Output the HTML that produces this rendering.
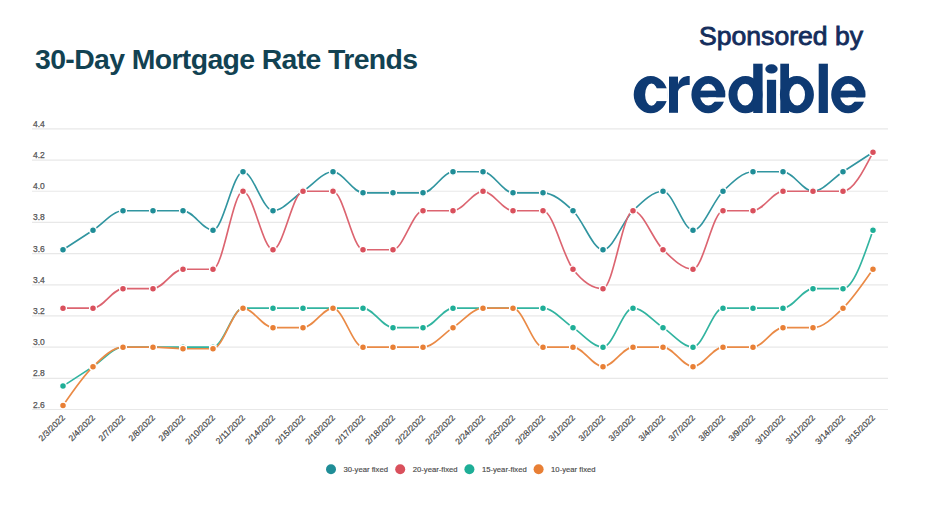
<!DOCTYPE html>
<html><head><meta charset="utf-8">
<style>
html,body{margin:0;padding:0;background:#fff;}
body{width:932px;height:524px;position:relative;overflow:hidden;font-family:"Liberation Sans",sans-serif;}
.title{position:absolute;left:35px;top:44px;font-size:28.4px;letter-spacing:-0.62px;font-weight:bold;color:#124252;white-space:nowrap;line-height:30px;}
.spons{position:absolute;left:699px;top:20.5px;font-size:26.6px;font-weight:normal;-webkit-text-stroke:0.85px #142d5c;color:#142d5c;white-space:nowrap;line-height:30px;}
.chart{position:absolute;left:0;top:0;}
.yl{font-size:8.5px;fill:#555;stroke:#555;stroke-width:0.25px;font-family:"Liberation Sans",sans-serif;}
.xl{font-size:8.5px;fill:#444;stroke:#444;stroke-width:0.2px;font-family:"Liberation Sans",sans-serif;}
.lg{font-size:7.7px;fill:#4a4a4a;stroke:#4a4a4a;stroke-width:0.15px;font-family:"Liberation Sans",sans-serif;}
.logo{position:absolute;left:0;top:0;}
</style></head><body>
<div class="title">30-Day Mortgage Rate Trends</div>
<div class="spons">Sponsored by</div>
<svg class="logo" width="932" height="130" viewBox="0 0 932 130"><g fill="#0e3a73"><path fill-rule="evenodd" d="M633.70,94.65A17.00,18.65 0 1,0 667.70,94.65A17.00,18.65 0 1,0 633.70,94.65ZM645.10,94.65A6.40,11.05 0 1,0 657.90,94.65A6.40,11.05 0 1,0 645.10,94.65Z"/><rect x="651.70" y="88.3" width="16.2" height="12.8" fill="#fff"/><path d="M669.00,76.60H678.00V112.80H669.00Z"/><path d="M678,84.5C679.5,78.5 683.5,76 689.7,76V85.1C684,85.1 679.5,87 678,91.5Z"/><path fill-rule="evenodd" d="M691.40,94.65A16.90,18.65 0 1,0 725.20,94.65A16.90,18.65 0 1,0 691.40,94.65ZM700.00,94.65A8.30,10.85 0 1,0 716.60,94.65A8.30,10.85 0 1,0 700.00,94.65Z"/><path d="M699.30,90.60H725.20V97.40H699.30Z"/><rect x="708.30" y="97.4" width="19.50" height="4.3" fill="#fff"/><path fill-rule="evenodd" d="M728.50,94.65A17.00,18.65 0 1,0 762.50,94.65A17.00,18.65 0 1,0 728.50,94.65ZM737.40,94.65A7.80,10.85 0 1,0 753.00,94.65A7.80,10.85 0 1,0 737.40,94.65Z"/><path d="M753.20,63.70H762.60V113.00H753.20Z"/><ellipse cx="771.5" cy="68.9" rx="6.2" ry="4.6"/><path d="M766.90,79.80H776.10V113.00H766.90Z"/><path fill-rule="evenodd" d="M779.90,94.65A17.00,18.65 0 1,0 813.90,94.65A17.00,18.65 0 1,0 779.90,94.65ZM789.40,94.65A7.80,10.85 0 1,0 805.00,94.65A7.80,10.85 0 1,0 789.40,94.65Z"/><path d="M780.30,63.70H789.00V113.00H780.30Z"/><path d="M818.70,63.70H827.90V113.00H818.70Z"/><path fill-rule="evenodd" d="M831.20,94.65A17.05,18.65 0 1,0 865.30,94.65A17.05,18.65 0 1,0 831.20,94.65ZM839.95,94.65A8.30,10.85 0 1,0 856.55,94.65A8.30,10.85 0 1,0 839.95,94.65Z"/><path d="M839.25,90.60H865.30V97.50H839.25Z"/><rect x="848.25" y="97.5" width="20" height="4.2" fill="#fff"/></g></svg>
<svg class="chart" width="932" height="524" viewBox="0 0 932 524">
<line x1="32.0" x2="888.0" y1="128.90" y2="128.90" stroke="#e8e8e8" stroke-width="1.2"/>
<text x="33.0" y="126.90" class="yl">4.4</text>
<line x1="32.0" x2="888.0" y1="160.08" y2="160.08" stroke="#e8e8e8" stroke-width="1.2"/>
<text x="33.0" y="158.08" class="yl">4.2</text>
<line x1="32.0" x2="888.0" y1="191.26" y2="191.26" stroke="#e8e8e8" stroke-width="1.2"/>
<text x="33.0" y="189.26" class="yl">4.0</text>
<line x1="32.0" x2="888.0" y1="222.43" y2="222.43" stroke="#e8e8e8" stroke-width="1.2"/>
<text x="33.0" y="220.43" class="yl">3.8</text>
<line x1="32.0" x2="888.0" y1="253.61" y2="253.61" stroke="#e8e8e8" stroke-width="1.2"/>
<text x="33.0" y="251.61" class="yl">3.6</text>
<line x1="32.0" x2="888.0" y1="284.79" y2="284.79" stroke="#e8e8e8" stroke-width="1.2"/>
<text x="33.0" y="282.79" class="yl">3.4</text>
<line x1="32.0" x2="888.0" y1="315.97" y2="315.97" stroke="#e8e8e8" stroke-width="1.2"/>
<text x="33.0" y="313.97" class="yl">3.2</text>
<line x1="32.0" x2="888.0" y1="347.14" y2="347.14" stroke="#e8e8e8" stroke-width="1.2"/>
<text x="33.0" y="345.14" class="yl">3.0</text>
<line x1="32.0" x2="888.0" y1="378.32" y2="378.32" stroke="#e8e8e8" stroke-width="1.2"/>
<text x="33.0" y="376.32" class="yl">2.8</text>
<line x1="32.0" x2="888.0" y1="409.50" y2="409.50" stroke="#e8e8e8" stroke-width="1.2"/>
<text x="33.0" y="407.50" class="yl">2.6</text>
<text class="xl" transform="translate(65.50,418.30) rotate(-45)" text-anchor="end">2/3/2022</text>
<text class="xl" transform="translate(95.50,418.30) rotate(-45)" text-anchor="end">2/4/2022</text>
<text class="xl" transform="translate(125.50,418.30) rotate(-45)" text-anchor="end">2/7/2022</text>
<text class="xl" transform="translate(155.50,418.30) rotate(-45)" text-anchor="end">2/8/2022</text>
<text class="xl" transform="translate(185.50,418.30) rotate(-45)" text-anchor="end">2/9/2022</text>
<text class="xl" transform="translate(215.50,418.30) rotate(-45)" text-anchor="end">2/10/2022</text>
<text class="xl" transform="translate(245.50,418.30) rotate(-45)" text-anchor="end">2/11/2022</text>
<text class="xl" transform="translate(275.50,418.30) rotate(-45)" text-anchor="end">2/14/2022</text>
<text class="xl" transform="translate(305.50,418.30) rotate(-45)" text-anchor="end">2/15/2022</text>
<text class="xl" transform="translate(335.50,418.30) rotate(-45)" text-anchor="end">2/16/2022</text>
<text class="xl" transform="translate(365.50,418.30) rotate(-45)" text-anchor="end">2/17/2022</text>
<text class="xl" transform="translate(395.50,418.30) rotate(-45)" text-anchor="end">2/18/2022</text>
<text class="xl" transform="translate(425.50,418.30) rotate(-45)" text-anchor="end">2/22/2022</text>
<text class="xl" transform="translate(455.50,418.30) rotate(-45)" text-anchor="end">2/23/2022</text>
<text class="xl" transform="translate(485.50,418.30) rotate(-45)" text-anchor="end">2/24/2022</text>
<text class="xl" transform="translate(515.50,418.30) rotate(-45)" text-anchor="end">2/25/2022</text>
<text class="xl" transform="translate(545.50,418.30) rotate(-45)" text-anchor="end">2/28/2022</text>
<text class="xl" transform="translate(575.50,418.30) rotate(-45)" text-anchor="end">3/1/2022</text>
<text class="xl" transform="translate(605.50,418.30) rotate(-45)" text-anchor="end">3/2/2022</text>
<text class="xl" transform="translate(635.50,418.30) rotate(-45)" text-anchor="end">3/3/2022</text>
<text class="xl" transform="translate(665.50,418.30) rotate(-45)" text-anchor="end">3/4/2022</text>
<text class="xl" transform="translate(695.50,418.30) rotate(-45)" text-anchor="end">3/7/2022</text>
<text class="xl" transform="translate(725.50,418.30) rotate(-45)" text-anchor="end">3/8/2022</text>
<text class="xl" transform="translate(755.50,418.30) rotate(-45)" text-anchor="end">3/9/2022</text>
<text class="xl" transform="translate(785.50,418.30) rotate(-45)" text-anchor="end">3/10/2022</text>
<text class="xl" transform="translate(815.50,418.30) rotate(-45)" text-anchor="end">3/11/2022</text>
<text class="xl" transform="translate(845.50,418.30) rotate(-45)" text-anchor="end">3/14/2022</text>
<text class="xl" transform="translate(875.50,418.30) rotate(-45)" text-anchor="end">3/15/2022</text>
<path d="M63.00,249.71C73.00,243.22,83.00,236.72,93.00,230.23C103.00,223.73,113.00,210.74,123.00,210.74C133.00,210.74,143.00,210.74,153.00,210.74C163.00,210.74,173.00,210.74,183.00,210.74C193.00,210.74,203.00,230.23,213.00,230.23C223.00,230.23,233.00,171.77,243.00,171.77C253.00,171.77,263.00,210.74,273.00,210.74C283.00,210.74,293.00,197.75,303.00,191.26C313.00,184.76,323.00,171.77,333.00,171.77C343.00,171.77,353.00,192.81,363.00,192.81C373.00,192.81,383.00,192.81,393.00,192.81C403.00,192.81,413.00,192.81,423.00,192.81C433.00,192.81,443.00,171.77,453.00,171.77C463.00,171.77,473.00,171.77,483.00,171.77C493.00,171.77,503.00,192.81,513.00,192.81C523.00,192.81,533.00,192.81,543.00,192.81C553.00,192.81,563.00,201.26,573.00,210.74C583.00,220.22,593.00,249.71,603.00,249.71C613.00,249.71,623.00,220.48,633.00,210.74C643.00,201.00,653.00,191.26,663.00,191.26C673.00,191.26,683.00,230.23,693.00,230.23C703.00,230.23,713.00,201.00,723.00,191.26C733.00,181.51,743.00,171.77,753.00,171.77C763.00,171.77,773.00,171.77,783.00,171.77C793.00,171.77,803.00,191.26,813.00,191.26C823.00,191.26,833.00,178.26,843.00,171.77C853.00,165.27,863.00,158.78,873.00,152.28" fill="none" stroke="#3195a0" stroke-width="1.65"/>
<circle cx="63.00" cy="249.71" r="3.4" fill="#1f8d97" stroke="#fff" stroke-width="1.3"/>
<circle cx="93.00" cy="230.23" r="3.4" fill="#1f8d97" stroke="#fff" stroke-width="1.3"/>
<circle cx="123.00" cy="210.74" r="3.4" fill="#1f8d97" stroke="#fff" stroke-width="1.3"/>
<circle cx="153.00" cy="210.74" r="3.4" fill="#1f8d97" stroke="#fff" stroke-width="1.3"/>
<circle cx="183.00" cy="210.74" r="3.4" fill="#1f8d97" stroke="#fff" stroke-width="1.3"/>
<circle cx="213.00" cy="230.23" r="3.4" fill="#1f8d97" stroke="#fff" stroke-width="1.3"/>
<circle cx="243.00" cy="171.77" r="3.4" fill="#1f8d97" stroke="#fff" stroke-width="1.3"/>
<circle cx="273.00" cy="210.74" r="3.4" fill="#1f8d97" stroke="#fff" stroke-width="1.3"/>
<circle cx="303.00" cy="191.26" r="3.4" fill="#1f8d97" stroke="#fff" stroke-width="1.3"/>
<circle cx="333.00" cy="171.77" r="3.4" fill="#1f8d97" stroke="#fff" stroke-width="1.3"/>
<circle cx="363.00" cy="192.81" r="3.4" fill="#1f8d97" stroke="#fff" stroke-width="1.3"/>
<circle cx="393.00" cy="192.81" r="3.4" fill="#1f8d97" stroke="#fff" stroke-width="1.3"/>
<circle cx="423.00" cy="192.81" r="3.4" fill="#1f8d97" stroke="#fff" stroke-width="1.3"/>
<circle cx="453.00" cy="171.77" r="3.4" fill="#1f8d97" stroke="#fff" stroke-width="1.3"/>
<circle cx="483.00" cy="171.77" r="3.4" fill="#1f8d97" stroke="#fff" stroke-width="1.3"/>
<circle cx="513.00" cy="192.81" r="3.4" fill="#1f8d97" stroke="#fff" stroke-width="1.3"/>
<circle cx="543.00" cy="192.81" r="3.4" fill="#1f8d97" stroke="#fff" stroke-width="1.3"/>
<circle cx="573.00" cy="210.74" r="3.4" fill="#1f8d97" stroke="#fff" stroke-width="1.3"/>
<circle cx="603.00" cy="249.71" r="3.4" fill="#1f8d97" stroke="#fff" stroke-width="1.3"/>
<circle cx="633.00" cy="210.74" r="3.4" fill="#1f8d97" stroke="#fff" stroke-width="1.3"/>
<circle cx="663.00" cy="191.26" r="3.4" fill="#1f8d97" stroke="#fff" stroke-width="1.3"/>
<circle cx="693.00" cy="230.23" r="3.4" fill="#1f8d97" stroke="#fff" stroke-width="1.3"/>
<circle cx="723.00" cy="191.26" r="3.4" fill="#1f8d97" stroke="#fff" stroke-width="1.3"/>
<circle cx="753.00" cy="171.77" r="3.4" fill="#1f8d97" stroke="#fff" stroke-width="1.3"/>
<circle cx="783.00" cy="171.77" r="3.4" fill="#1f8d97" stroke="#fff" stroke-width="1.3"/>
<circle cx="813.00" cy="191.26" r="3.4" fill="#1f8d97" stroke="#fff" stroke-width="1.3"/>
<circle cx="843.00" cy="171.77" r="3.4" fill="#1f8d97" stroke="#fff" stroke-width="1.3"/>
<circle cx="873.00" cy="152.28" r="3.4" fill="#1f8d97" stroke="#fff" stroke-width="1.3"/>
<path d="M63.00,308.17C73.00,308.17,83.00,308.17,93.00,308.17C103.00,308.17,113.00,288.69,123.00,288.69C133.00,288.69,143.00,288.69,153.00,288.69C163.00,288.69,173.00,269.20,183.00,269.20C193.00,269.20,203.00,269.20,213.00,269.20C223.00,269.20,233.00,191.26,243.00,191.26C253.00,191.26,263.00,249.71,273.00,249.71C283.00,249.71,293.00,191.26,303.00,191.26C313.00,191.26,323.00,191.26,333.00,191.26C343.00,191.26,353.00,249.71,363.00,249.71C373.00,249.71,383.00,249.71,393.00,249.71C403.00,249.71,413.00,210.74,423.00,210.74C433.00,210.74,443.00,210.74,453.00,210.74C463.00,210.74,473.00,191.26,483.00,191.26C493.00,191.26,503.00,210.74,513.00,210.74C523.00,210.74,533.00,210.74,543.00,210.74C553.00,210.74,563.00,256.21,573.00,269.20C583.00,282.19,593.00,288.69,603.00,288.69C613.00,288.69,623.00,210.74,633.00,210.74C643.00,210.74,653.00,239.97,663.00,249.71C673.00,259.46,683.00,269.20,693.00,269.20C703.00,269.20,713.00,210.74,723.00,210.74C733.00,210.74,743.00,210.74,753.00,210.74C763.00,210.74,773.00,191.26,783.00,191.26C793.00,191.26,803.00,191.26,813.00,191.26C823.00,191.26,833.00,191.26,843.00,191.26C853.00,191.26,863.00,171.77,873.00,152.28" fill="none" stroke="#dc6470" stroke-width="1.65"/>
<circle cx="63.00" cy="308.17" r="3.4" fill="#d9505c" stroke="#fff" stroke-width="1.3"/>
<circle cx="93.00" cy="308.17" r="3.4" fill="#d9505c" stroke="#fff" stroke-width="1.3"/>
<circle cx="123.00" cy="288.69" r="3.4" fill="#d9505c" stroke="#fff" stroke-width="1.3"/>
<circle cx="153.00" cy="288.69" r="3.4" fill="#d9505c" stroke="#fff" stroke-width="1.3"/>
<circle cx="183.00" cy="269.20" r="3.4" fill="#d9505c" stroke="#fff" stroke-width="1.3"/>
<circle cx="213.00" cy="269.20" r="3.4" fill="#d9505c" stroke="#fff" stroke-width="1.3"/>
<circle cx="243.00" cy="191.26" r="3.4" fill="#d9505c" stroke="#fff" stroke-width="1.3"/>
<circle cx="273.00" cy="249.71" r="3.4" fill="#d9505c" stroke="#fff" stroke-width="1.3"/>
<circle cx="303.00" cy="191.26" r="3.4" fill="#d9505c" stroke="#fff" stroke-width="1.3"/>
<circle cx="333.00" cy="191.26" r="3.4" fill="#d9505c" stroke="#fff" stroke-width="1.3"/>
<circle cx="363.00" cy="249.71" r="3.4" fill="#d9505c" stroke="#fff" stroke-width="1.3"/>
<circle cx="393.00" cy="249.71" r="3.4" fill="#d9505c" stroke="#fff" stroke-width="1.3"/>
<circle cx="423.00" cy="210.74" r="3.4" fill="#d9505c" stroke="#fff" stroke-width="1.3"/>
<circle cx="453.00" cy="210.74" r="3.4" fill="#d9505c" stroke="#fff" stroke-width="1.3"/>
<circle cx="483.00" cy="191.26" r="3.4" fill="#d9505c" stroke="#fff" stroke-width="1.3"/>
<circle cx="513.00" cy="210.74" r="3.4" fill="#d9505c" stroke="#fff" stroke-width="1.3"/>
<circle cx="543.00" cy="210.74" r="3.4" fill="#d9505c" stroke="#fff" stroke-width="1.3"/>
<circle cx="573.00" cy="269.20" r="3.4" fill="#d9505c" stroke="#fff" stroke-width="1.3"/>
<circle cx="603.00" cy="288.69" r="3.4" fill="#d9505c" stroke="#fff" stroke-width="1.3"/>
<circle cx="633.00" cy="210.74" r="3.4" fill="#d9505c" stroke="#fff" stroke-width="1.3"/>
<circle cx="663.00" cy="249.71" r="3.4" fill="#d9505c" stroke="#fff" stroke-width="1.3"/>
<circle cx="693.00" cy="269.20" r="3.4" fill="#d9505c" stroke="#fff" stroke-width="1.3"/>
<circle cx="723.00" cy="210.74" r="3.4" fill="#d9505c" stroke="#fff" stroke-width="1.3"/>
<circle cx="753.00" cy="210.74" r="3.4" fill="#d9505c" stroke="#fff" stroke-width="1.3"/>
<circle cx="783.00" cy="191.26" r="3.4" fill="#d9505c" stroke="#fff" stroke-width="1.3"/>
<circle cx="813.00" cy="191.26" r="3.4" fill="#d9505c" stroke="#fff" stroke-width="1.3"/>
<circle cx="843.00" cy="191.26" r="3.4" fill="#d9505c" stroke="#fff" stroke-width="1.3"/>
<circle cx="873.00" cy="152.28" r="3.4" fill="#d9505c" stroke="#fff" stroke-width="1.3"/>
<path d="M63.00,386.12C73.00,379.62,83.00,373.13,93.00,366.63C103.00,360.14,113.00,347.14,123.00,347.14C133.00,347.14,143.00,347.14,153.00,347.14C163.00,347.14,173.00,347.14,183.00,347.14C193.00,347.14,203.00,347.14,213.00,347.14C223.00,347.14,233.00,308.17,243.00,308.17C253.00,308.17,263.00,308.17,273.00,308.17C283.00,308.17,293.00,308.17,303.00,308.17C313.00,308.17,323.00,308.17,333.00,308.17C343.00,308.17,353.00,308.17,363.00,308.17C373.00,308.17,383.00,327.66,393.00,327.66C403.00,327.66,413.00,327.66,423.00,327.66C433.00,327.66,443.00,308.17,453.00,308.17C463.00,308.17,473.00,308.17,483.00,308.17C493.00,308.17,503.00,308.17,513.00,308.17C523.00,308.17,533.00,308.17,543.00,308.17C553.00,308.17,563.00,321.16,573.00,327.66C583.00,334.15,593.00,347.14,603.00,347.14C613.00,347.14,623.00,308.17,633.00,308.17C643.00,308.17,653.00,321.16,663.00,327.66C673.00,334.15,683.00,347.14,693.00,347.14C703.00,347.14,713.00,308.17,723.00,308.17C733.00,308.17,743.00,308.17,753.00,308.17C763.00,308.17,773.00,308.17,783.00,308.17C793.00,308.17,803.00,288.69,813.00,288.69C823.00,288.69,833.00,288.69,843.00,288.69C853.00,288.69,863.00,259.46,873.00,230.23" fill="none" stroke="#32b4a0" stroke-width="1.65"/>
<circle cx="63.00" cy="386.12" r="3.4" fill="#1eae97" stroke="#fff" stroke-width="1.3"/>
<circle cx="93.00" cy="366.63" r="3.4" fill="#1eae97" stroke="#fff" stroke-width="1.3"/>
<circle cx="123.00" cy="347.14" r="3.4" fill="#1eae97" stroke="#fff" stroke-width="1.3"/>
<circle cx="153.00" cy="347.14" r="3.4" fill="#1eae97" stroke="#fff" stroke-width="1.3"/>
<circle cx="183.00" cy="347.14" r="3.4" fill="#1eae97" stroke="#fff" stroke-width="1.3"/>
<circle cx="213.00" cy="347.14" r="3.4" fill="#1eae97" stroke="#fff" stroke-width="1.3"/>
<circle cx="243.00" cy="308.17" r="3.4" fill="#1eae97" stroke="#fff" stroke-width="1.3"/>
<circle cx="273.00" cy="308.17" r="3.4" fill="#1eae97" stroke="#fff" stroke-width="1.3"/>
<circle cx="303.00" cy="308.17" r="3.4" fill="#1eae97" stroke="#fff" stroke-width="1.3"/>
<circle cx="333.00" cy="308.17" r="3.4" fill="#1eae97" stroke="#fff" stroke-width="1.3"/>
<circle cx="363.00" cy="308.17" r="3.4" fill="#1eae97" stroke="#fff" stroke-width="1.3"/>
<circle cx="393.00" cy="327.66" r="3.4" fill="#1eae97" stroke="#fff" stroke-width="1.3"/>
<circle cx="423.00" cy="327.66" r="3.4" fill="#1eae97" stroke="#fff" stroke-width="1.3"/>
<circle cx="453.00" cy="308.17" r="3.4" fill="#1eae97" stroke="#fff" stroke-width="1.3"/>
<circle cx="483.00" cy="308.17" r="3.4" fill="#1eae97" stroke="#fff" stroke-width="1.3"/>
<circle cx="513.00" cy="308.17" r="3.4" fill="#1eae97" stroke="#fff" stroke-width="1.3"/>
<circle cx="543.00" cy="308.17" r="3.4" fill="#1eae97" stroke="#fff" stroke-width="1.3"/>
<circle cx="573.00" cy="327.66" r="3.4" fill="#1eae97" stroke="#fff" stroke-width="1.3"/>
<circle cx="603.00" cy="347.14" r="3.4" fill="#1eae97" stroke="#fff" stroke-width="1.3"/>
<circle cx="633.00" cy="308.17" r="3.4" fill="#1eae97" stroke="#fff" stroke-width="1.3"/>
<circle cx="663.00" cy="327.66" r="3.4" fill="#1eae97" stroke="#fff" stroke-width="1.3"/>
<circle cx="693.00" cy="347.14" r="3.4" fill="#1eae97" stroke="#fff" stroke-width="1.3"/>
<circle cx="723.00" cy="308.17" r="3.4" fill="#1eae97" stroke="#fff" stroke-width="1.3"/>
<circle cx="753.00" cy="308.17" r="3.4" fill="#1eae97" stroke="#fff" stroke-width="1.3"/>
<circle cx="783.00" cy="308.17" r="3.4" fill="#1eae97" stroke="#fff" stroke-width="1.3"/>
<circle cx="813.00" cy="288.69" r="3.4" fill="#1eae97" stroke="#fff" stroke-width="1.3"/>
<circle cx="843.00" cy="288.69" r="3.4" fill="#1eae97" stroke="#fff" stroke-width="1.3"/>
<circle cx="873.00" cy="230.23" r="3.4" fill="#1eae97" stroke="#fff" stroke-width="1.3"/>
<path d="M63.00,405.60C73.00,390.99,83.00,376.37,93.00,366.63C103.00,356.89,113.00,347.14,123.00,347.14C133.00,347.14,143.00,347.14,153.00,347.14C163.00,347.14,173.00,348.70,183.00,348.70C193.00,348.70,203.00,348.70,213.00,348.70C223.00,348.70,233.00,308.17,243.00,308.17C253.00,308.17,263.00,327.66,273.00,327.66C283.00,327.66,293.00,327.66,303.00,327.66C313.00,327.66,323.00,308.17,333.00,308.17C343.00,308.17,353.00,347.14,363.00,347.14C373.00,347.14,383.00,347.14,393.00,347.14C403.00,347.14,413.00,347.14,423.00,347.14C433.00,347.14,443.00,334.15,453.00,327.66C463.00,321.16,473.00,308.17,483.00,308.17C493.00,308.17,503.00,308.17,513.00,308.17C523.00,308.17,533.00,347.14,543.00,347.14C553.00,347.14,563.00,347.14,573.00,347.14C583.00,347.14,593.00,366.63,603.00,366.63C613.00,366.63,623.00,347.14,633.00,347.14C643.00,347.14,653.00,347.14,663.00,347.14C673.00,347.14,683.00,366.63,693.00,366.63C703.00,366.63,713.00,347.14,723.00,347.14C733.00,347.14,743.00,347.14,753.00,347.14C763.00,347.14,773.00,327.66,783.00,327.66C793.00,327.66,803.00,327.66,813.00,327.66C823.00,327.66,833.00,317.92,843.00,308.17C853.00,298.43,863.00,283.81,873.00,269.20" fill="none" stroke="#ea8a46" stroke-width="1.65"/>
<circle cx="63.00" cy="405.60" r="3.4" fill="#e87f35" stroke="#fff" stroke-width="1.3"/>
<circle cx="93.00" cy="366.63" r="3.4" fill="#e87f35" stroke="#fff" stroke-width="1.3"/>
<circle cx="123.00" cy="347.14" r="3.4" fill="#e87f35" stroke="#fff" stroke-width="1.3"/>
<circle cx="153.00" cy="347.14" r="3.4" fill="#e87f35" stroke="#fff" stroke-width="1.3"/>
<circle cx="183.00" cy="348.70" r="3.4" fill="#e87f35" stroke="#fff" stroke-width="1.3"/>
<circle cx="213.00" cy="348.70" r="3.4" fill="#e87f35" stroke="#fff" stroke-width="1.3"/>
<circle cx="243.00" cy="308.17" r="3.4" fill="#e87f35" stroke="#fff" stroke-width="1.3"/>
<circle cx="273.00" cy="327.66" r="3.4" fill="#e87f35" stroke="#fff" stroke-width="1.3"/>
<circle cx="303.00" cy="327.66" r="3.4" fill="#e87f35" stroke="#fff" stroke-width="1.3"/>
<circle cx="333.00" cy="308.17" r="3.4" fill="#e87f35" stroke="#fff" stroke-width="1.3"/>
<circle cx="363.00" cy="347.14" r="3.4" fill="#e87f35" stroke="#fff" stroke-width="1.3"/>
<circle cx="393.00" cy="347.14" r="3.4" fill="#e87f35" stroke="#fff" stroke-width="1.3"/>
<circle cx="423.00" cy="347.14" r="3.4" fill="#e87f35" stroke="#fff" stroke-width="1.3"/>
<circle cx="453.00" cy="327.66" r="3.4" fill="#e87f35" stroke="#fff" stroke-width="1.3"/>
<circle cx="483.00" cy="308.17" r="3.4" fill="#e87f35" stroke="#fff" stroke-width="1.3"/>
<circle cx="513.00" cy="308.17" r="3.4" fill="#e87f35" stroke="#fff" stroke-width="1.3"/>
<circle cx="543.00" cy="347.14" r="3.4" fill="#e87f35" stroke="#fff" stroke-width="1.3"/>
<circle cx="573.00" cy="347.14" r="3.4" fill="#e87f35" stroke="#fff" stroke-width="1.3"/>
<circle cx="603.00" cy="366.63" r="3.4" fill="#e87f35" stroke="#fff" stroke-width="1.3"/>
<circle cx="633.00" cy="347.14" r="3.4" fill="#e87f35" stroke="#fff" stroke-width="1.3"/>
<circle cx="663.00" cy="347.14" r="3.4" fill="#e87f35" stroke="#fff" stroke-width="1.3"/>
<circle cx="693.00" cy="366.63" r="3.4" fill="#e87f35" stroke="#fff" stroke-width="1.3"/>
<circle cx="723.00" cy="347.14" r="3.4" fill="#e87f35" stroke="#fff" stroke-width="1.3"/>
<circle cx="753.00" cy="347.14" r="3.4" fill="#e87f35" stroke="#fff" stroke-width="1.3"/>
<circle cx="783.00" cy="327.66" r="3.4" fill="#e87f35" stroke="#fff" stroke-width="1.3"/>
<circle cx="813.00" cy="327.66" r="3.4" fill="#e87f35" stroke="#fff" stroke-width="1.3"/>
<circle cx="843.00" cy="308.17" r="3.4" fill="#e87f35" stroke="#fff" stroke-width="1.3"/>
<circle cx="873.00" cy="269.20" r="3.4" fill="#e87f35" stroke="#fff" stroke-width="1.3"/>
<circle cx="331.00" cy="469.20" r="5" fill="#1f8d97"/>
<text class="lg" x="343.50" y="471.90">30-year fixed</text>
<circle cx="400.20" cy="469.20" r="5" fill="#d9505c"/>
<text class="lg" x="412.70" y="471.90">20-year-fixed</text>
<circle cx="469.40" cy="469.20" r="5" fill="#1eae97"/>
<text class="lg" x="481.90" y="471.90">15-year-fixed</text>
<circle cx="538.60" cy="469.20" r="5" fill="#e87f35"/>
<text class="lg" x="551.10" y="471.90">10-year fixed</text>
</svg>
</body></html>
